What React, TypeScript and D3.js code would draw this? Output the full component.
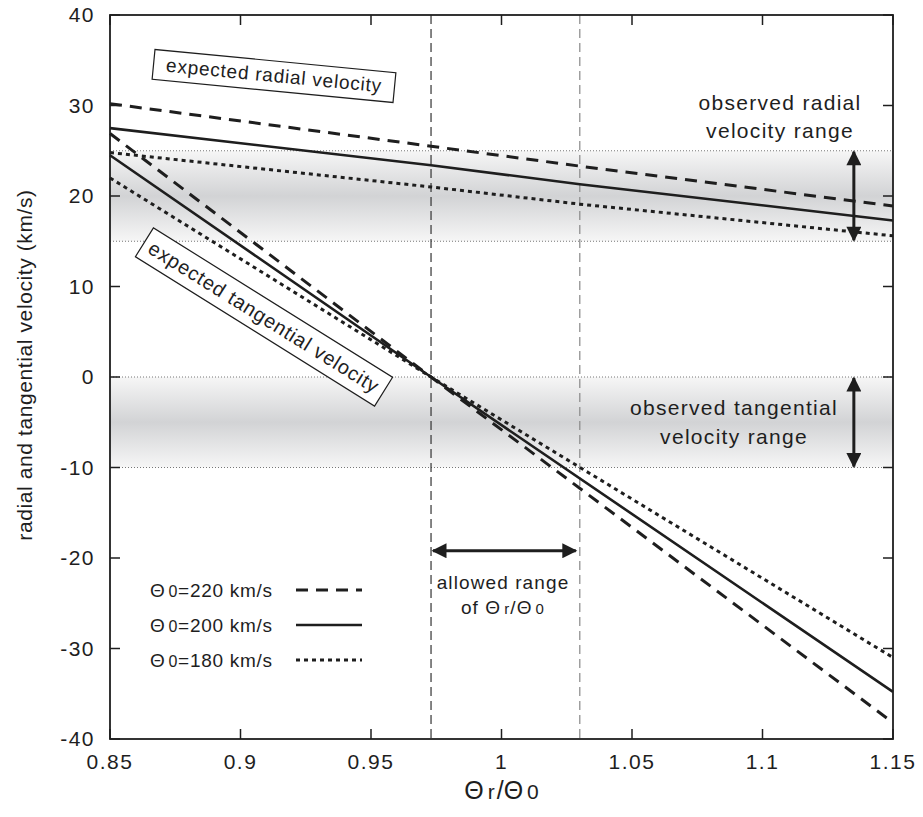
import * as d3 from "d3";

// Θr/Θ0 sample points for the radial curves
const radialX = [0.85, 0.973, 1.03, 1.15];
const radial220 = [30.2, 25.5, 23.3, 18.9];
const radial200 = [27.5, 23.4, 21.3, 17.3];
const radial180 = [24.8, 21.0, 19.1, 15.6];

// tangential curves, all cross zero near 0.973
const tangX = [0.85, 0.973, 1.15];
const tang220 = [26.9, 0, -38.2];
const tang200 = [24.5, 0, -34.8];
const tang180 = [22.0, 0, -31.0];

const xTicks = [0.85, 0.9, 0.95, 1, 1.05, 1.1, 1.15];
const yTicks = [-40, -30, -20, -10, 0, 10, 20, 30, 40];

const radialBand = [15, 25];
const tangBand = [-10, 0];
const allowed = [0.973, 1.03];

const legend = [
  { theta: "220", dash: "12 8" },
  { theta: "200", dash: "" },
  { theta: "180", dash: "4 4" },
];

const W = 923;
const H = 817;
const font = "'Liberation Sans', Arial, Helvetica, sans-serif";
const ink = "#1e1e1e";

export default function App() {
  const x = d3.scaleLinear().domain([0.85, 1.15]).range([110, 893]);
  const y = d3.scaleLinear().domain([-40, 40]).range([739, 15]);
  const line = d3
    .line<[number, number]>()
    .x((d) => x(d[0]))
    .y((d) => y(d[1]));

  const series = [
    { xs: radialX, ys: radial220, dash: "12 8" },
    { xs: radialX, ys: radial200, dash: "" },
    { xs: radialX, ys: radial180, dash: "4 4" },
    { xs: tangX, ys: tang220, dash: "12 8" },
    { xs: tangX, ys: tang200, dash: "" },
    { xs: tangX, ys: tang180, dash: "4 4" },
  ];

  const x0 = x.range()[0];
  const x1 = x.range()[1];
  const arrowX = x(1.135);
  const harrowY = y(-19.2);

  const band = (b: number[], key: string) => (
    <g key={key}>
      <rect x={x0} y={y(b[1])} width={x1 - x0} height={y(b[0]) - y(b[1])} fill="url(#bandGrad)" />
      {b.map((v) => (
        <line key={v} x1={x0} x2={x1} y1={y(v)} y2={y(v)} stroke="#777" strokeWidth={1} strokeDasharray="1 2" />
      ))}
    </g>
  );

  return (
    <svg width={W} height={H} style={{ position: "absolute", left: 0, top: 0, background: "#fff" }} fontFamily={font}>
      <defs>
        <linearGradient id="bandGrad" x1="0" y1="0" x2="0" y2="1">
          <stop offset="0" stopColor="#f6f6f6" />
          <stop offset="0.5" stopColor="#d2d3d5" />
          <stop offset="1" stopColor="#f6f6f6" />
        </linearGradient>
        <marker id="ah" viewBox="0 0 10 10" refX="9" refY="5" markerWidth="6" markerHeight="5" orient="auto-start-reverse" markerUnits="strokeWidth">
          <path d="M0,0 L10,5 L0,10 z" fill={ink} />
        </marker>
      </defs>

      {band(radialBand, "r")}
      {band(tangBand, "t")}

      {allowed.map((v, i) => (
        <line key={v} x1={x(v)} x2={x(v)} y1={y(40)} y2={y(-40)} stroke={i === 0 ? "#333" : "#888"} strokeWidth={1.2} strokeDasharray="9 5" />
      ))}

      {series.map((s, i) => (
        <path
          key={i}
          d={line(s.xs.map((v, j) => [v, s.ys[j]] as [number, number])) || ""}
          fill="none"
          stroke={ink}
          strokeWidth={s.dash === "" ? 2.6 : 3}
          strokeDasharray={s.dash || undefined}
        />
      ))}

      {/* frame and ticks */}
      <rect x={x0} y={y(40)} width={x1 - x0} height={y(-40) - y(40)} fill="none" stroke={ink} strokeWidth={1.8} />
      {xTicks.map((t) => (
        <g key={t}>
          <line x1={x(t)} x2={x(t)} y1={y(-40)} y2={y(-40) - 10} stroke={ink} strokeWidth={1.5} />
          <line x1={x(t)} x2={x(t)} y1={y(40)} y2={y(40) + 10} stroke={ink} strokeWidth={1.5} />
          <text x={x(t)} y={y(-40) + 30} textAnchor="middle" fontSize={21} letterSpacing={1.5} fill={ink}>
            {String(t)}
          </text>
        </g>
      ))}
      {yTicks.map((t) => (
        <g key={t}>
          <line x1={x0} x2={x0 + 10} y1={y(t)} y2={y(t)} stroke={ink} strokeWidth={1.5} />
          <line x1={x1} x2={x1 - 10} y1={y(t)} y2={y(t)} stroke={ink} strokeWidth={1.5} />
          <text x={95} y={y(t) + 7} textAnchor="end" fontSize={21} letterSpacing={1.5} fill={ink}>
            {String(t)}
          </text>
        </g>
      ))}

      <text transform={`translate(32,${y(0) - 12}) rotate(-90)`} textAnchor="middle" fontSize={21} letterSpacing={0.6} fill={ink}>
        radial and tangential velocity (km/s)
      </text>
      <text x={x(1)} y={799} textAnchor="middle" fontSize={25} fill={ink}>
        Θ<tspan dx={4} fontSize={21}>r</tspan><tspan dx={2}>/</tspan>Θ<tspan dx={4} fontSize={21}>0</tspan>
      </text>

      {/* boxed labels */}
      <g transform="translate(274,76) rotate(5.5)">
        <rect x={-121} y={-15} width={242} height={30} fill="#fff" stroke={ink} strokeWidth={1.2} />
        <text x={0} y={6} textAnchor="middle" fontSize={19} letterSpacing={0.8} fill={ink}>expected radial velocity</text>
      </g>
      <g transform="translate(264,317) rotate(32)">
        <rect x={-141} y={-17} width={282} height={34} fill="#fff" stroke={ink} strokeWidth={1.2} />
        <text x={0} y={7} textAnchor="middle" fontSize={20} letterSpacing={0.8} fill={ink}>expected tangential velocity</text>
      </g>

      {/* observed ranges */}
      <text x={780} y={110} textAnchor="middle" fontSize={21} letterSpacing={1.3} fill={ink}>observed radial</text>
      <text x={780} y={138} textAnchor="middle" fontSize={21} letterSpacing={1.3} fill={ink}>velocity range</text>
      <line x1={arrowX} x2={arrowX} y1={y(radialBand[1]) + 1} y2={y(radialBand[0]) - 1} stroke={ink} strokeWidth={3} markerStart="url(#ah)" markerEnd="url(#ah)" />

      <text x={734} y={415} textAnchor="middle" fontSize={21} letterSpacing={1.3} fill={ink}>observed tangential</text>
      <text x={734} y={444} textAnchor="middle" fontSize={21} letterSpacing={1.3} fill={ink}>velocity range</text>
      <line x1={arrowX} x2={arrowX} y1={y(tangBand[1]) + 1} y2={y(tangBand[0]) - 1} stroke={ink} strokeWidth={3} markerStart="url(#ah)" markerEnd="url(#ah)" />

      <line x1={x(allowed[0]) + 2} x2={x(allowed[1]) - 4} y1={harrowY} y2={harrowY} stroke={ink} strokeWidth={3} markerStart="url(#ah)" markerEnd="url(#ah)" />
      <text x={503} y={589} textAnchor="middle" fontSize={19} letterSpacing={1.1} fill={ink}>allowed range</text>
      <text x={503} y={614} textAnchor="middle" fontSize={19} letterSpacing={1.1} fill={ink}>
        of Θ<tspan fontSize={15} dx={3}>r</tspan>/Θ<tspan fontSize={15} dx={3}>0</tspan>
      </text>

      {/* legend */}
      {legend.map((l, i) => {
        const ly = 590 + i * 35;
        return (
          <g key={l.theta}>
            <text x={150} y={ly + 7} fontSize={19} letterSpacing={0.7} fill={ink}>
              Θ<tspan dx={3} fontSize={16}>0</tspan>={l.theta} km/s
            </text>
            <line x1={296} x2={362} y1={ly} y2={ly} stroke={ink} strokeWidth={l.dash === "" ? 2.6 : 3} strokeDasharray={l.dash || undefined} />
          </g>
        );
      })}
    </svg>
  );
}
